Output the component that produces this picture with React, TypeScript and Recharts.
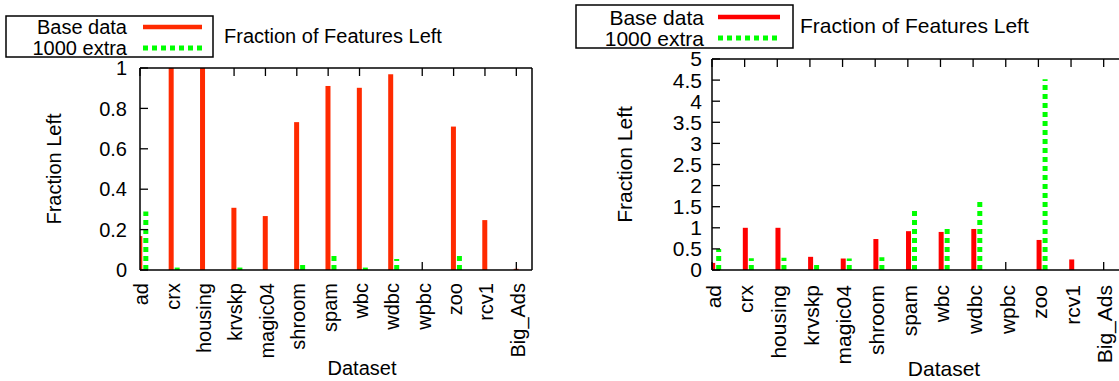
import React from 'react';
import { BarChart, Bar, XAxis, YAxis, Legend, Label } from 'recharts';

// datasets along the x axis
const datasets = ['ad', 'crx', 'housing', 'krvskp', 'magic04', 'shroom', 'spam', 'wbc', 'wdbc', 'wpbc', 'zoo', 'rcv1', 'Big_Ads'];

// left panel: fraction of features left
const leftBase = [0.168, 1.0, 1.0, 0.308, 0.267, 0.732, 0.911, 0.902, 0.969, 0, 0.71, 0.247, 0.006];
const leftExtra = [0.289, 0.012, 0, 0.012, 0, 0.028, 0.077, 0.012, 0.055, 0, 0.077, 0, 0];

// right panel
const rightBase = [0.168, 1.0, 1.0, 0.312, 0.272, 0.734, 0.92, 0.902, 0.972, 0, 0.712, 0.25, 0];
const rightExtra = [0.5, 0.28, 0.29, 0.14, 0.27, 0.3, 1.45, 0.997, 1.675, 0, 4.52, 0, 0];

const leftYTicks = [0, 0.2, 0.4, 0.6, 0.8, 1];
const rightYTicks = [0, 0.5, 1, 1.5, 2, 2.5, 3, 3.5, 4, 4.5, 5];
const xTicks = datasets.map((_, i) => i);

const FONT = '"Liberation Sans", Arial, Helvetica, sans-serif';
const GREEN = '#00ff00';
const TICK = 8;

function buildRows(base: number[], extra: number[]) {
  return datasets.map((name, i) => ({ idx: i, name, base: base[i], extra: extra[i] }));
}

interface PanelProps {
  base: number[];
  extra: number[];
  yMax: number;
  yTicks: number[];
  red: string;
  fontSize: number;
  width: number;
  // plot box inside the chart svg
  plot: { left: number; top: number; right: number; bottom: number };
  shift: number;
  catGap: number;
  yGap: number;
  legendBox: { x: number; y: number; w: number; h: number };
  legendTextEnd: number;
  legendRows: [number, number];
  legendLine: [number, number];
  title: { x: number; y: number };
  yLabelDx: number;
  xLabel: { dx: number; dy: number };
}

function Panel(p: PanelProps) {
  const rows = buildRows(p.base, p.extra);
  const H = 381;
  const plotH = p.plot.bottom - p.plot.top;
  // axes are 1px thick boxes, so the margins are one px smaller than the plot box
  const margin = {
    top: p.plot.top - 1,
    left: p.plot.left - 1,
    right: p.width - p.plot.right - 1,
    bottom: H - p.plot.bottom - 1,
  };

  const RedShape = (s: any) => {
    if (!s.height || s.height <= 0) return <g />;
    return <rect x={s.x + p.shift} y={s.y} width={s.width} height={s.height} fill={p.red} />;
  };

  const GreenShape = (s: any) => {
    if (!s.height || s.height <= 0) return <g />;
    const cx = s.x + p.shift + s.width / 2;
    return (
      <line x1={cx} x2={cx} y1={s.y + s.height} y2={s.y} stroke={GREEN} strokeWidth={s.width} strokeDasharray="5 4" />
    );
  };

  // gnuplot draws the impulses over the tick marks, so a tick is only seen where no bar covers it
  const redPx = (i: number) => (p.base[i] / p.yMax) * plotH;

  const CatTick = ({ x, y, payload }: any) => (
    <g>
      {redPx(payload.value) < TICK && (
        <line x1={x} x2={x} y1={p.plot.bottom} y2={p.plot.bottom - TICK} stroke="#000" strokeWidth={1.3} />
      )}
      <text
        x={x}
        y={y}
        transform={`rotate(-90 ${x} ${y})`}
        textAnchor="end"
        dy="0.42em"
        fontSize={p.fontSize}
        fill="#000"
        fontFamily={FONT}
      >
        {datasets[payload.value]}
      </text>
    </g>
  );

  const TopTick = ({ x, payload }: any) =>
    redPx(payload.value) < plotH - TICK ? (
      <line x1={x} x2={x} y1={p.plot.top} y2={p.plot.top + TICK} stroke="#000" strokeWidth={1.3} />
    ) : (
      <g />
    );

  const renderLegend = (props: any) => {
    const items = [...(props.payload || [])].sort((a: any, b: any) =>
      a.dataKey === 'base' ? -1 : b.dataKey === 'base' ? 1 : 0
    );
    const { x, y, w, h } = p.legendBox;
    return (
      <svg width={p.width} height={80} style={{ display: 'block', overflow: 'visible' }}>
        <rect x={x} y={y} width={w} height={h} fill="#fff" stroke="#000" strokeWidth={1.5} />
        {items.map((it: any, i: number) => {
          const ly = p.legendRows[i];
          const dashed = it.dataKey === 'extra';
          return (
            <g key={it.value}>
              <text x={p.legendTextEnd} y={ly} textAnchor="end" dominantBaseline="central" fontSize={p.fontSize} fontFamily={FONT} fill="#000">
                {it.value}
              </text>
              <line
                x1={p.legendLine[0]}
                x2={p.legendLine[1]}
                y1={ly}
                y2={ly}
                stroke={dashed ? GREEN : p.red}
                strokeWidth={dashed ? 5 : 4.5}
                strokeDasharray={dashed ? '5 4' : undefined}
              />
            </g>
          );
        })}
        <text x={p.title.x} y={p.title.y} dominantBaseline="central" fontSize={p.fontSize} fontFamily={FONT} fill="#000">
          Fraction of Features Left
        </text>
      </svg>
    );
  };

  const axisStroke = { stroke: '#000', strokeWidth: 1.5 };
  const tickStroke = { stroke: '#000', strokeWidth: 1.3 };

  return (
    <BarChart width={p.width} height={H} data={rows} margin={margin} barGap={1}>
      <XAxis
        xAxisId="b"
        dataKey="idx"
        type="number"
        domain={[0, 12.5]}
        ticks={xTicks}
        allowDataOverflow
        height={1}
        tickSize={-TICK}
        tickMargin={p.catGap}
        axisLine={axisStroke}
        tickLine={false}
        tick={<CatTick />}
        interval={0}
      >
        <Label
          content={(lp: any) => {
            const vb = lp.viewBox;
            return (
              <text x={vb.x + vb.width / 2 + p.xLabel.dx} y={p.plot.bottom + p.xLabel.dy} textAnchor="middle" fontSize={p.fontSize} fontFamily={FONT} fill="#000">
                Dataset
              </text>
            );
          }}
        />
      </XAxis>
      <XAxis
        xAxisId="t"
        orientation="top"
        dataKey="idx"
        type="number"
        domain={[0, 12.5]}
        ticks={xTicks}
        allowDataOverflow
        height={1}
        tickSize={-TICK}
        axisLine={axisStroke}
        tickLine={false}
        tick={<TopTick />}
        interval={0}
      />
      <YAxis
        yAxisId="l"
        type="number"
        domain={[0, p.yMax]}
        ticks={p.yTicks}
        width={1}
        tickSize={-TICK}
        tickMargin={p.yGap + TICK}
        axisLine={axisStroke}
        tickLine={tickStroke}
        tick={{ fill: '#000', fontSize: p.fontSize, fontFamily: FONT }}
        interval={0}
      >
        <Label
          content={(lp: any) => {
            const vb = lp.viewBox;
            const cx = p.plot.left + p.yLabelDx;
            const cy = vb.y + vb.height / 2;
            return (
              <text x={cx} y={cy} transform={`rotate(-90 ${cx} ${cy})`} textAnchor="middle" dominantBaseline="central" fontSize={p.fontSize} fontFamily={FONT} fill="#000">
                Fraction Left
              </text>
            );
          }}
        />
      </YAxis>
      <YAxis
        yAxisId="r"
        orientation="right"
        type="number"
        domain={[0, p.yMax]}
        ticks={p.yTicks}
        width={1}
        tickSize={-TICK}
        axisLine={axisStroke}
        tickLine={tickStroke}
        tick={false}
        interval={0}
      />
      <Legend
        layout="horizontal"
        verticalAlign="middle"
        align="center"
        content={renderLegend}
        wrapperStyle={{ left: 0, top: 0, width: p.width, height: 80 }}
      />
      <Bar xAxisId="b" yAxisId="l" dataKey="base" name="Base data" fill={p.red} barSize={5} shape={RedShape} isAnimationActive={false} />
      <Bar xAxisId="b" yAxisId="l" dataKey="extra" name="1000 extra" fill={GREEN} barSize={5} shape={GreenShape} isAnimationActive={false} />
    </BarChart>
  );
}

export default function App() {
  return (
    <div
      style={{
        position: 'absolute',
        left: 0,
        top: 0,
        width: 1119,
        height: 381,
        overflow: 'hidden',
        background: '#fff',
        fontFamily: FONT,
      }}
    >
      <div style={{ position: 'absolute', left: 0, top: 0 }}>
        <Panel
          base={leftBase}
          extra={leftExtra}
          yMax={1}
          yTicks={leftYTicks}
          red="#ff2a00"
          fontSize={20}
          width={560}
          plot={{ left: 140, top: 68, right: 532, bottom: 270 }}
          shift={3}
          catGap={21}
          yGap={13}
          legendBox={{ x: 6, y: 16, w: 207, h: 41 }}
          legendTextEnd={127}
          legendRows={[27, 48]}
          legendLine={[143, 202]}
          title={{ x: 224, y: 36 }}
          yLabelDx={-86}
          xLabel={{ dx: 26, dy: 105 }}
        />
      </div>
      <div style={{ position: 'absolute', left: 570, top: 0 }}>
        <Panel
          base={rightBase}
          extra={rightExtra}
          yMax={5}
          yTicks={rightYTicks}
          red="#ff0000"
          fontSize={21}
          width={552}
          plot={{ left: 142, top: 59, right: 550, bottom: 270 }}
          shift={3.5}
          catGap={23}
          yGap={10}
          legendBox={{ x: 6, y: 5, w: 217, h: 43 }}
          legendTextEnd={134}
          legendRows={[17, 38]}
          legendLine={[148, 210]}
          title={{ x: 230, y: 25 }}
          yLabelDx={-88}
          xLabel={{ dx: 28, dy: 106 }}
        />
      </div>
    </div>
  );
}
